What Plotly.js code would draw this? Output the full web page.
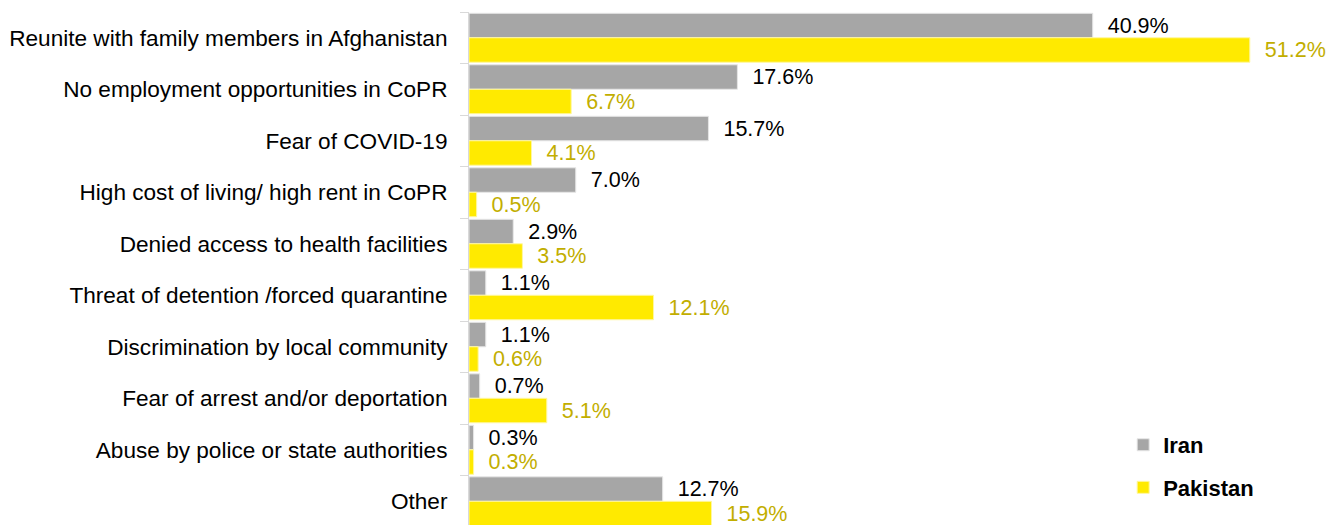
<!DOCTYPE html>
<html>
<head>
<meta charset="utf-8">
<script src="https://cdn.plot.ly/plotly-3.0.1.min.js"></script>
<style>html,body{margin:0;padding:0;background:#fff;}#chart{width:1337px;height:525px;}</style>
</head>
<body>
<div id="chart"></div>
<script>
const categories = [
  "Reunite with family members in Afghanistan",
  "No employment opportunities in CoPR",
  "Fear of COVID-19",
  "High cost of living/ high rent in CoPR",
  "Denied access to health facilities",
  "Threat of detention /forced quarantine",
  "Discrimination by local community",
  "Fear of arrest and/or deportation",
  "Abuse by police or state authorities",
  "Other"
];
const iranValues = [40.9, 17.6, 15.7, 7.0, 2.9, 1.1, 1.1, 0.7, 0.3, 12.7];
const pakistanValues = [51.2, 6.7, 4.1, 0.5, 3.5, 12.1, 0.6, 5.1, 0.3, 15.9];
const seriesNames = ["Iran", "Pakistan"];

const font = "Liberation Sans, Arial, sans-serif";
const traces = [
  {
    type: "bar", orientation: "h", name: seriesNames[0], legendgroup: "a",
    y: categories, x: iranValues,
    marker: {color: "#a6a6a6", line: {color: "#e6e6e6", width: 1}},
    texttemplate: "\u00a0\u00a0%{x:.1f}%", textposition: "outside",
    textfont: {family: font, size: 22, color: "#000000"},
    cliponaxis: false, hoverinfo: "x+y"
  },
  {
    type: "bar", orientation: "h", name: seriesNames[1], legendgroup: "b",
    y: categories, x: pakistanValues,
    marker: {color: "#ffea00", line: {color: "#fff7a0", width: 1}},
    texttemplate: "\u00a0\u00a0%{x:.1f}%", textposition: "outside",
    textfont: {family: font, size: 22, color: "#c2ae00"},
    cliponaxis: false, hoverinfo: "x+y"
  }
];

const layout = {
  width: 1337, height: 525,
  margin: {l: 469, r: 14, t: 12, b: 0},
  paper_bgcolor: "#ffffff", plot_bgcolor: "#ffffff",
  barmode: "group", bargap: 0.05, bargroupgap: 0,
  font: {family: font, size: 22, color: "#000000"},
  showlegend: true,
  legend: {
    x: 0.766, y: 0.197, xanchor: "left", yanchor: "top",
    font: {family: font, size: 22, color: "#000000", weight: "bold"},
    tracegroupgap: 11, bgcolor: "rgba(0,0,0,0)"
  },
  xaxis: {
    range: [0, 56], showgrid: false, zeroline: false, showline: false,
    showticklabels: false, ticks: ""
  },
  yaxis: {
    type: "category", range: [9.46, -0.5],
    showline: true, linecolor: "#d9d9d9", linewidth: 1,
    ticks: "outside", tickson: "boundaries", ticklen: 8, tickcolor: "#d9d9d9",
    ticklabelstandoff: 16,
    tickfont: {family: font, size: 22.6, color: "#000000"},
    showgrid: false
  }
};

Plotly.newPlot("chart", traces, layout, {displayModeBar: false, staticPlot: true});
</script>
</body>
</html>
